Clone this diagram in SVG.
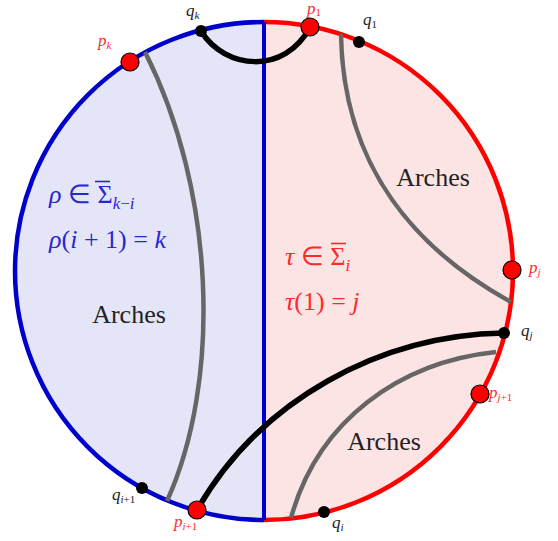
<svg xmlns="http://www.w3.org/2000/svg" width="558" height="541" viewBox="0 0 558 541">
<style>
.gray{fill:none;stroke:#666;stroke-width:4.5}
.blk{fill:none;stroke:#000;stroke-width:5.5;stroke-linecap:round}
.pt{fill:#f00;stroke:#000;stroke-width:1.2}
.q{fill:#000}
.lbl{font-family:"Liberation Serif",serif;font-style:italic;font-size:17px}
.sub{font-size:11px;font-style:normal}
.subi{font-size:11px}
.math{font-family:"Liberation Serif",serif;font-size:26px}
.arch{font-family:"Liberation Serif",serif;font-size:26px;fill:#222}
</style>
<rect width="558" height="541" fill="#fff"/>
<g id="regions">
<path d="M264,22 A249,249 0 0 0 264,520 Z" fill="#e5e5f8"/>
<path d="M264,22 A249,249 0 0 1 264,520 Z" fill="#fde4e4"/>
<path d="M264,22 A249,249 0 0 0 264,520" fill="none" stroke="#0000cc" stroke-width="4.5"/>
<path d="M264,22 A249,249 0 0 1 264,520" fill="none" stroke="#ff0000" stroke-width="4.5"/>
<line x1="264" y1="22" x2="264" y2="520" stroke="#0000cc" stroke-width="4"/>
</g>
<g id="connectors">
<path class="gray" d="M145,52 C215,190 222,380 167,501"/>
<path class="gray" d="M341,34 C343,170 420,252 511,302"/>
<path class="gray" d="M496,352 C400,362 318,420 291,518"/>
<path class="blk" d="M201,31 C225,70 285,75 310,27"/>
<path class="blk" d="M197,510 C260,400 380,335 504,333"/>
</g>
<g id="texts">
<text class="math" x="49" y="203" fill="#2828d0"><tspan font-style="italic">ρ</tspan> ∈ Σ<tspan font-size="17" font-style="italic" dy="6">k</tspan><tspan font-size="17" dy="0">−</tspan><tspan font-size="17" font-style="italic">i</tspan></text>
<line x1="95" y1="181.5" x2="110" y2="181.5" stroke="#2828d0" stroke-width="1.6"/>
<text class="math" x="49" y="248" fill="#2828d0"><tspan font-style="italic">ρ</tspan>(<tspan font-style="italic">i</tspan> + 1) = <tspan font-style="italic">k</tspan></text>
<text class="math" x="285" y="265" fill="#ff2a2a"><tspan font-style="italic">τ</tspan> ∈ Σ<tspan font-size="17" font-style="italic" dy="6">i</tspan></text>
<line x1="331" y1="243.5" x2="346" y2="243.5" stroke="#ff2a2a" stroke-width="1.6"/>
<text class="math" x="285" y="310" fill="#ff2a2a"><tspan font-style="italic">τ</tspan>(1) = <tspan font-style="italic">j</tspan></text>
<text class="arch" x="129" y="323" text-anchor="middle">Arches</text>
<text class="arch" x="433" y="186" text-anchor="middle">Arches</text>
<text class="arch" x="384" y="450" text-anchor="middle">Arches</text>
</g>
<g id="node-qk"><circle class="q" cx="201" cy="31" r="6"/><text class="lbl" x="186" y="16" fill="#222">q<tspan class="subi" dy="3">k</tspan></text></g>
<g id="node-p1"><circle class="pt" cx="310" cy="27" r="9"/><text class="lbl" x="307" y="14" fill="#ff2a2a">p<tspan class="sub" dy="2">1</tspan></text></g>
<g id="node-q1"><circle class="q" cx="359" cy="42" r="6"/><text class="lbl" x="363" y="25" fill="#222">q<tspan class="sub" dy="3">1</tspan></text></g>
<g id="node-pk"><circle class="pt" cx="130" cy="62" r="9"/><text class="lbl" x="98" y="46" fill="#ff2a2a">p<tspan class="subi" dy="3">k</tspan></text></g>
<g id="node-pj"><circle class="pt" cx="512" cy="270" r="9"/><text class="lbl" x="529" y="273" fill="#ff2a2a">p<tspan class="subi" dy="3">j</tspan></text></g>
<g id="node-qj"><circle class="q" cx="504" cy="333" r="6"/><text class="lbl" x="521" y="336" fill="#222">q<tspan class="subi" dy="3">j</tspan></text></g>
<g id="node-pj1"><circle class="pt" cx="480" cy="394" r="9"/><text class="lbl" x="489" y="398" fill="#ff2a2a">p<tspan class="subi" dy="3">j</tspan><tspan class="sub">+1</tspan></text></g>
<g id="node-qi1"><circle class="q" cx="142" cy="488" r="6"/><text class="lbl" x="112" y="500" fill="#222">q<tspan class="subi" dy="3">i</tspan><tspan class="sub">+1</tspan></text></g>
<g id="node-pi1"><circle class="pt" cx="197" cy="510" r="9"/><text class="lbl" x="174" y="527" fill="#ff2a2a">p<tspan class="subi" dy="3">i</tspan><tspan class="sub">+1</tspan></text></g>
<g id="node-qi"><circle class="q" cx="324" cy="512" r="6"/><text class="lbl" x="332" y="528" fill="#222">q<tspan class="subi" dy="3">i</tspan></text></g>
</svg>
